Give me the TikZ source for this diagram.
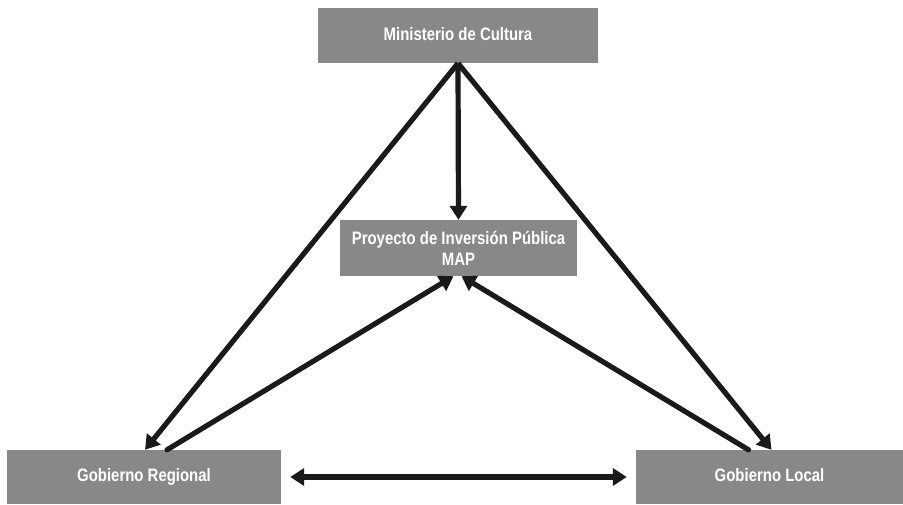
\documentclass[tikz,border=0pt]{standalone}
\usepackage{fontspec}
\setmainfont[FakeStretch=0.83]{Liberation Sans}
\usetikzlibrary{arrows.meta}
\definecolor{boxgray}{HTML}{87888A}
\definecolor{arrowblack}{HTML}{1A1A1A}
\begin{document}
\begin{tikzpicture}[x=1pt,y=-1pt,
  gbox/.style={fill=boxgray,draw=none,text=white,font=\bfseries\fontsize{18}{21}\selectfont,align=center,inner sep=0pt},
  onel/.style={text height=13pt,text depth=4pt},
  conn/.style={draw=arrowblack,line width=5.2pt,-{Triangle[length=14pt,width=17pt]}},
  dconn/.style={draw=arrowblack,line width=5.2pt,{Triangle[length=14pt,width=17pt]}-{Triangle[length=14pt,width=17pt]}}]
\useasboundingbox (0,0) rectangle (903,504);
\node[gbox,onel,minimum width=280pt,minimum height=55pt] (min) at (458,35.5) {Ministerio de Cultura};
\node[gbox,minimum width=237pt,minimum height=56pt] (proj) at (458.5,248) {Proyecto de Inversión Pública\\MAP};
\node[gbox,onel,minimum width=274pt,minimum height=54pt] (gr) at (144,477) {Gobierno Regional};
\node[gbox,onel,minimum width=267pt,minimum height=54pt] (gl) at (769.5,477) {Gobierno Local};
\draw[conn] (min.south) -- ([xshift=1pt]gr.north);
\draw[conn] (min.south) -- ([xshift=2pt]gl.north);
\draw[conn] (min.south) -- (proj.north);
\draw[conn,line cap=round] ([xshift=23pt]gr.north) -- ([xshift=-5pt]proj.south);
\draw[conn,line cap=round] ([xshift=-21pt]gl.north) -- ([xshift=3pt]proj.south);
\draw[dconn,shorten <=9pt,shorten >=9pt] (gr.east) -- (gl.west);
\end{tikzpicture}
\end{document}
